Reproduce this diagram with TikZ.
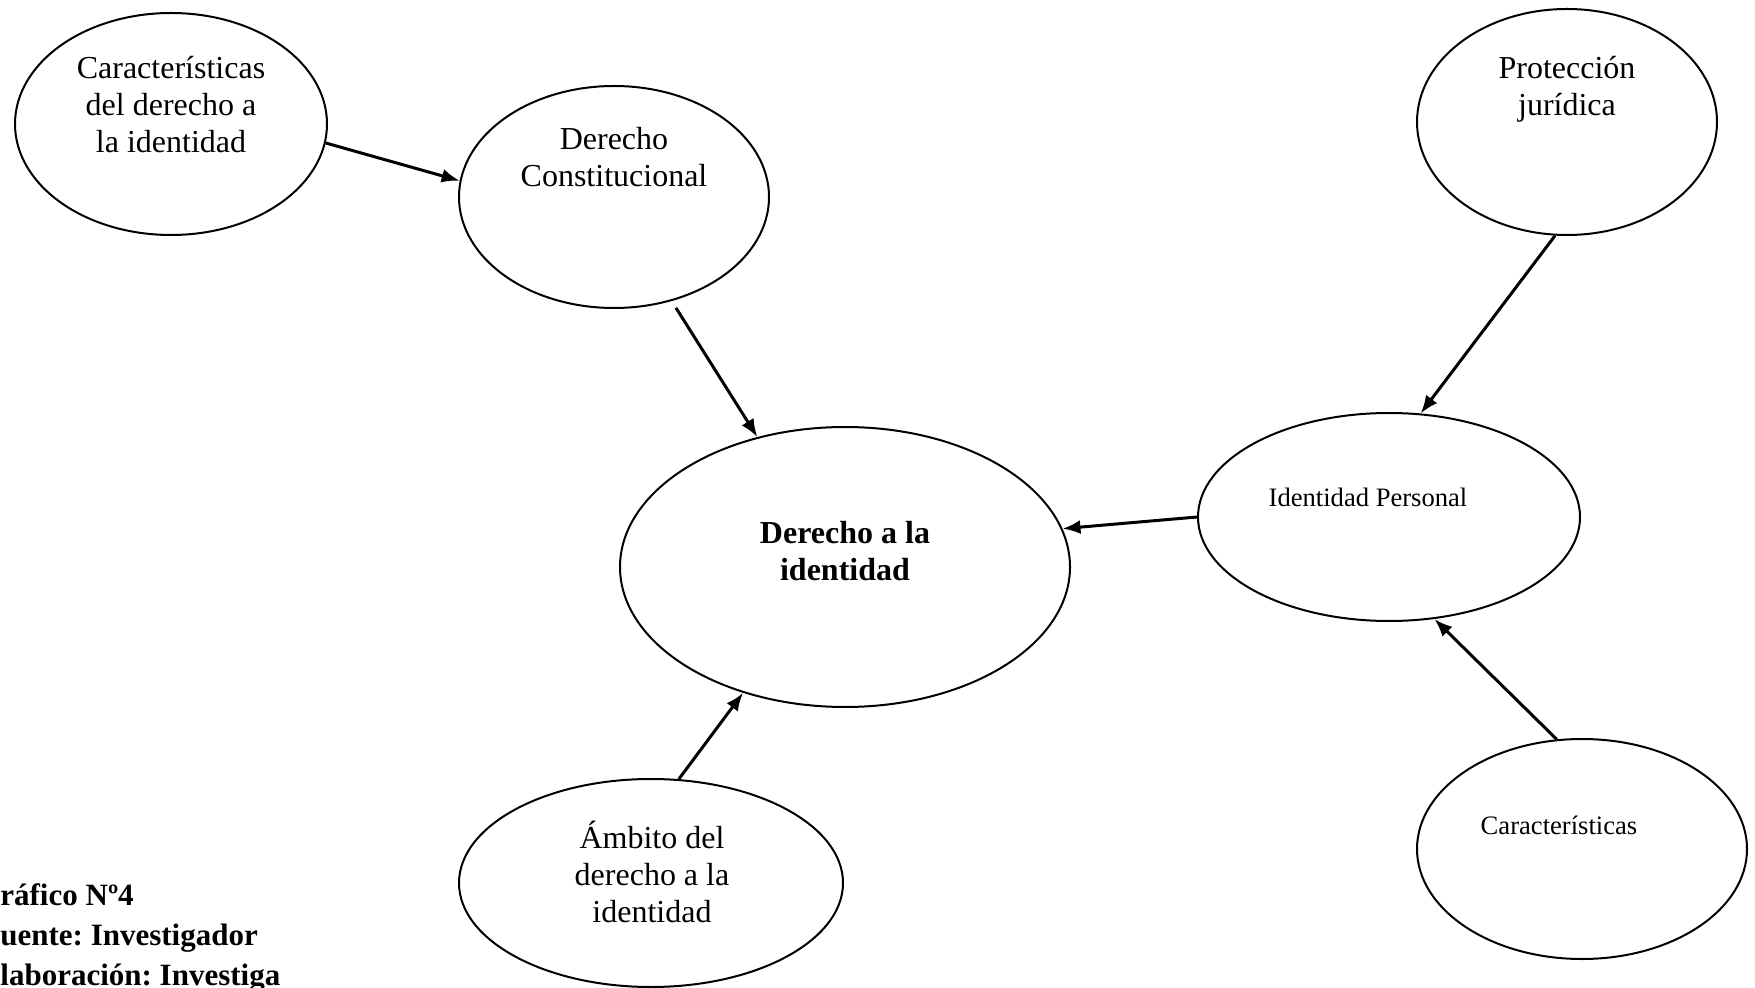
\documentclass[tikz,border=0pt]{standalone}
\usepackage{fontspec}
\setmainfont{Liberation Serif}
\frenchspacing
\usetikzlibrary{shapes.geometric,arrows.meta}

\tikzset{
	elip/.style={draw, ellipse, line width=1pt, inner sep=0pt},
	txt/.style={align=center, anchor=base, font=\fontsize{16}{18.5}\selectfont},
	smalltxt/.style={anchor=base, font=\fontsize{13.3}{16}\selectfont},
	flecha/.style={line width=1.5pt, -{Latex[length=9pt,width=7pt]}}
}

\begin{document}
\begin{tikzpicture}[x=0.5pt,y=-0.5pt]
\useasboundingbox (0,0) rectangle (1755,988);

% ellipses
\node[elip, minimum width=156pt, minimum height=111pt] (car) at (171,124) {};
\node[elip, minimum width=155pt, minimum height=111pt] (dc) at (614,197) {};
\node[elip, minimum width=150pt, minimum height=113pt] (prot) at (1567,122) {};
\node[elip, minimum width=225pt, minimum height=140pt] (main) at (845,567) {};
\node[elip, minimum width=191pt, minimum height=104pt] (ip) at (1389,517) {};
\node[elip, minimum width=165pt, minimum height=110pt] (car2) at (1582,849) {};
\node[elip, minimum width=192pt, minimum height=104pt] (amb) at (651,883) {};

% texts (base = last line)
\node[txt] (carT) at (171,153) {Características\\del derecho a\\la identidad};
\node[txt] (dcT) at (614,187) {Derecho\\Constitucional};
\node[txt] (protT) at (1567,116) {Protección\\jurídica};
\node[txt, font=\fontsize{16}{18.5}\selectfont\bfseries] (mainT) at (845,581) {Derecho a la\\identidad};
\node[smalltxt] (ipT) at (1368,507) {Identidad Personal};
\node[smalltxt] (car2T) at (1559,834) {Características};
\node[txt] (ambT) at (652,922) {Ámbito del\\derecho a la\\identidad};

\node[anchor=base west, align=left, inner sep=0pt, font=\fontsize{15.5}{20}\selectfont\bfseries] (pie) at (0,985) {ráfico Nº4\\uente: Investigador\\laboración: Investiga};

% arrows
\draw[flecha] (car.-7) -- (dc.174);
\draw[flecha, shorten <=4pt] (dc.-61) -- (main.124);
\draw[flecha] (prot.-96) -- (ip.73);
\draw[flecha] (ip.180) -- (main.10);
\draw[flecha] (car2.103) -- (ip.-66);
\draw[flecha] (amb.75) -- (main.231);
\end{tikzpicture}
\end{document}
